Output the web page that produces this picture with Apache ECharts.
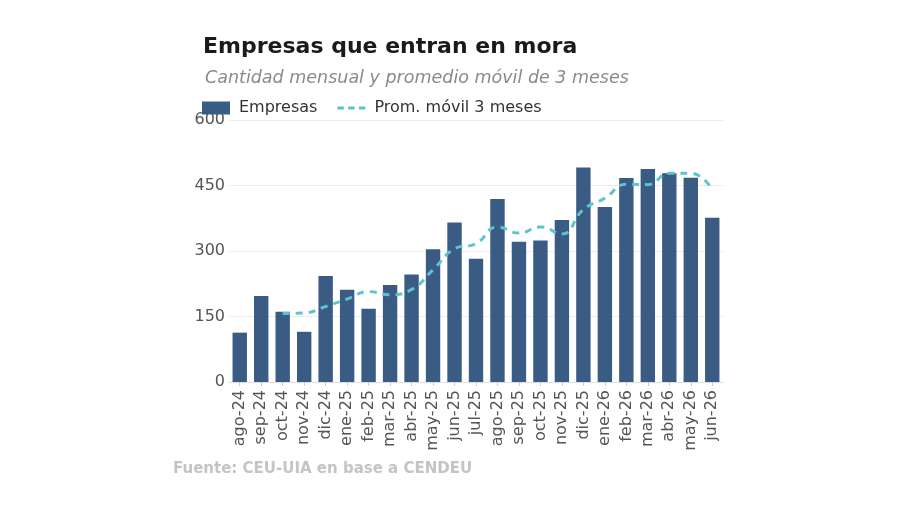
<!DOCTYPE html>
<html>
<head>
<meta charset="utf-8">
<script src="https://cdn.jsdelivr.net/npm/echarts@6/dist/echarts.min.js"></script>
<style>
html,body{margin:0;padding:0;background:#fff;}
#chart{width:900px;height:505px;}
</style>
</head>
<body>
<div id="chart"></div>
<script>
var categories = ['ago-24','sep-24','oct-24','nov-24','dic-24','ene-25','feb-25','mar-25','abr-25','may-25','jun-25','jul-25','ago-25','sep-25','oct-25','nov-25','dic-25','ene-26','feb-26','mar-26','abr-26','may-26','jun-26'];
var empresas = [113,197,161,115,243,211,168,222,246,304,365,282,419,321,324,371,491,401,467,488,478,468,376];
var promedio = ['-','-',157,158,173,190,207,200,212,257,305,317,355,341,355,339,395,421,453,452,478,478,441];
var yTicks = [0,150,300,450,600];

var FONT = 'DejaVu Sans';
var LINE_COLOR = '#5ec3cf';
var chart = echarts.init(document.getElementById('chart'));
chart.setOption({
  backgroundColor:'#ffffff',
  animation:false,
  title:[
    {text:'Empresas que entran en mora', left:198, top:31,
     textStyle:{fontFamily:FONT, fontSize:22, fontWeight:'bold', color:'#1a1a1a'}},
    {text:'Cantidad mensual y promedio móvil de 3 meses', left:200, top:64,
     textStyle:{fontFamily:FONT, fontSize:17.5, fontWeight:'normal', fontStyle:'italic', color:'#8a8a8a'}},
    {text:'Fuente: CEU-UIA en base a CENDEU', left:168, top:457,
     textStyle:{fontFamily:FONT, fontSize:15, fontWeight:'bold', color:'#c4c4c4'}}
  ],
  legend:{
    left:197, top:95, itemWidth:28, itemHeight:13, itemGap:20,
    textStyle:{fontFamily:FONT, fontSize:16, color:'#333', padding:[0,0,0,4]},
    data:[
      {name:'Empresas', icon:'rect'},
      {name:'Prom. móvil 3 meses', icon:'path://M0,0h6v3h-6z M10,0h6v3h-6z M20,0h6v3h-6z',
       itemStyle:{color:LINE_COLOR}}
    ]
  },
  grid:{left:229, right:177, top:120, bottom:123, containLabel:false},
  xAxis:{
    type:'category', data:categories,
    axisLine:{show:true, lineStyle:{color:'#dddddd'}},
    axisTick:{show:true, alignWithLabel:true, length:4, lineStyle:{color:'#cccccc'}},
    axisLabel:{rotate:90, interval:0, fontFamily:FONT, fontSize:16, color:'#555', margin:8}
  },
  yAxis:{
    type:'value', min:yTicks[0], max:yTicks[yTicks.length-1], interval:150,
    axisLine:{show:false}, axisTick:{show:false},
    splitLine:{lineStyle:{color:'#ececec', width:1}},
    axisLabel:{fontFamily:FONT, fontSize:16, color:'#555', margin:4}
  },
  series:[
    {name:'Empresas', type:'bar', data:empresas, barCategoryGap:'33%',
     itemStyle:{color:'#3a5b84'}},
    {name:'Prom. móvil 3 meses', type:'line', data:promedio, smooth:true,
     showSymbol:false, symbol:'none',
     lineStyle:{color:LINE_COLOR, width:3, type:[7,6]},
     itemStyle:{color:LINE_COLOR}}
  ]
});
</script>
</body>
</html>
